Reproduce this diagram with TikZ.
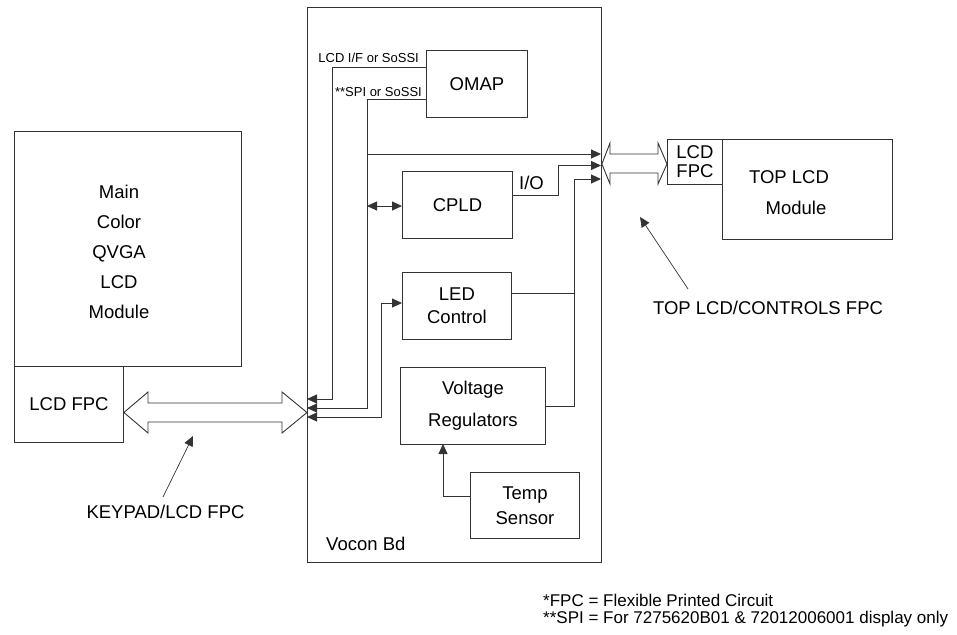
\documentclass[tikz,border=0pt]{standalone}
\usepackage{fontspec}
\setmainfont{Liberation Sans}
\usetikzlibrary{arrows.meta}
\begin{document}
\begin{tikzpicture}[x=1pt,y=-1pt,
  ln/.style={draw=black!80,line width=0.9pt},
  box/.style={ln,rectangle,inner sep=0pt,anchor=north west},
  big/.style={font=\fontsize{18.5}{23}\selectfont,align=center,inner sep=0pt},
  small/.style={font=\fontsize{13}{15}\selectfont,inner sep=0pt},
  note/.style={font=\fontsize{17}{20}\selectfont,inner sep=0pt,anchor=base west},
  ar/.style={ln,-{Triangle[length=10pt,width=9pt]}},
  dar/.style={ln,{Triangle[length=10pt,width=9pt]}-{Triangle[length=10pt,width=9pt]}},
  hollow/.style={ln,fill=white,line join=miter}]
\useasboundingbox (0,0) rectangle (957,634);

% boxes
\node[box,minimum width=227pt,minimum height=235pt] (main) at (14,131) {};
\node[big,font=\fontsize{18.5}{30}\selectfont] (maintxt) at (119,252) {Main\\Color\\QVGA\\LCD\\Module};
\node[box,minimum width=109pt,minimum height=76pt,big] (lcdfpc) at (14,366) {LCD FPC};
\node[box,minimum width=294pt,minimum height=555pt] (vocon) at (307,7) {};
\node[big,anchor=west] (vocontxt) at (326,544) {Vocon Bd};
\node[box,minimum width=101pt,minimum height=67pt,big] (omap) at (426,50) {OMAP};
\node[box,minimum width=110pt,minimum height=67pt,big] (cpld) at (402,171) {CPLD};
\node[box,minimum width=109pt,minimum height=67pt,big] (led) at (402,272) {LED\\Control};
\node[box,minimum width=145pt,minimum height=77pt,big,font=\fontsize{18.5}{32}\selectfont] (vr) at (400,367) {Voltage\\Regulators};
\node[box,minimum width=109pt,minimum height=66pt,big,font=\fontsize{18.5}{25}\selectfont] (temp) at (470,472) {Temp\\Sensor};
\node[box,minimum width=55pt,minimum height=45pt,big,font=\fontsize{18.5}{19}\selectfont] (topfpc) at (667,139) {LCD\\FPC};
\node[box,minimum width=170pt,minimum height=100pt] (toplcd) at (722,139) {};
\node[big] (toplcdtxt1) at (789,177) {TOP LCD};
\node[big] (toplcdtxt2) at (796,208) {Module};

% labels
\node[small,anchor=base east] (lbl1) at (419,63) {LCD I/F or SoSSI};
\node[small,anchor=base east] (lbl2) at (422,96) {**SPI or SoSSI};
\node[big,anchor=base west] (io) at (519,189.5) {I/O};
\node[big] (keylbl) at (165.5,512) {KEYPAD/LCD FPC};
\node[big] (toplbl) at (768,308) {TOP LCD/CONTROLS FPC};
\node[note] (n1) at (543,606) {*FPC = Flexible Printed Circuit};
\node[note] (n2) at (543,623) {**SPI = For 7275620B01 \& 72012006001 display only};

% hollow flex arrows
\draw[hollow] (lcdfpc.east |- 0,412.5) -- (148,392) -- (148,403) -- (282,403) -- (282,392)
  -- (vocon.west |- 0,412.5) -- (282,433) -- (282,422) -- (148,422) -- (148,433) -- cycle;
\draw[hollow] (vocon.east |- 0,164) -- (610,143) -- (610,154) -- (658,154) -- (658,143)
  -- (topfpc.west |- 0,164) -- (658,184) -- (658,173) -- (610,173) -- (610,184) -- cycle;

% coordinates
\coordinate (o1) at (426,67);
\coordinate (o2) at (426,99);
\coordinate (l1) at (307,399);
\coordinate (l2) at (307,408);
\coordinate (l3) at (307,417);
\coordinate (r1) at (601,154);
\coordinate (r2) at (601,165.5);
\coordinate (r3) at (601,179);
\coordinate (c1) at (367,154);
\coordinate (c2) at (367,206);
\coordinate (cpw) at (402,206);
\coordinate (cpe) at (512,195);
\coordinate (ledw) at (402,303);
\coordinate (lede) at (511,293);
\coordinate (vre) at (545,406);
\coordinate (vrb) at (443,444);
\coordinate (tmw) at (470,496);
\coordinate (a1s) at (688,289);
\coordinate (a1e) at (640,217);
\coordinate (a2s) at (163,497);
\coordinate (a2e) at (193,436);

% connectors
\draw[ar] (o1) -- (332,67) -- (332,399) -- (l1);
\draw[ar] (o2) -- (367,99) -- (367,408) -- (l2);
\draw[ar] (c1) -- (r1);
\draw[dar] (c2) -- (cpw);
\draw[ar] (cpe) -- (558,195) -- (558,165.5) -- (r2);
\draw[ln] (lede) -- (574,293);
\draw[ar] (vre) -- (574,406) -- (574,179) -- (r3);
\draw[dar] (l3) -- (381,417) -- (381,303) -- (ledw);
\draw[ar] (tmw) -- (443,496) -- (vrb);
\draw[ar,line width=0.7pt] (a1s) -- (a1e);
\draw[ar,line width=0.7pt] (a2s) -- (a2e);
\end{tikzpicture}
\end{document}
